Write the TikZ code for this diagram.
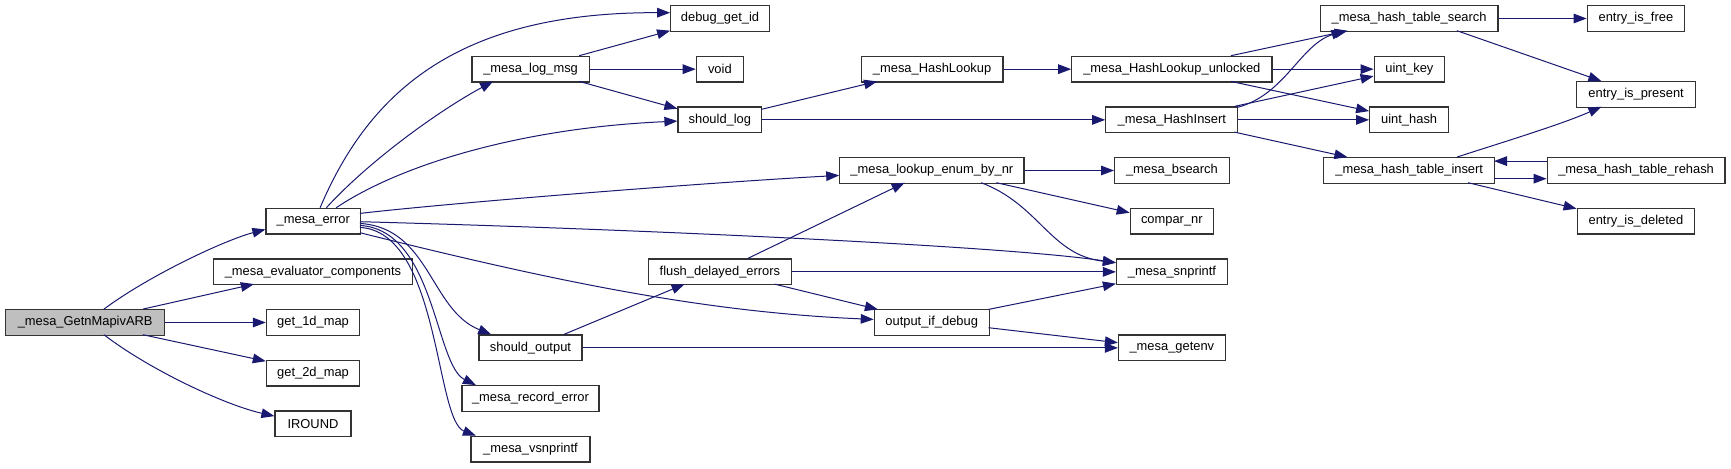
\documentclass[tikz,border=0pt]{standalone}
\usepackage{fontspec}
\setmainfont{Liberation Sans}
\usetikzlibrary{arrows.meta,calc}
\definecolor{edgeblue}{RGB}{25,25,112}
\definecolor{rootgray}{RGB}{191,191,191}
\tikzset{
 fnbox/.style={draw=black!80, line width=0.6pt, fill=white, inner sep=0pt, text=black, font=\fontsize{6.45pt}{7pt}\selectfont},
 call/.style={draw=edgeblue, line width=0.5pt, -{Triangle[length=6.5pt,width=4.8pt]}},
}
\newcommand\fnode[7][]{\node[fnbox,#1,minimum width={(#4-#3)*0.5pt},minimum height={(#6-#5)*0.5pt}] (#2) at ({(#3+#4)/2},{(#5+#6)/2}) {#7};}
\begin{document}
\begin{tikzpicture}[x=0.5pt,y=-0.5pt]
\fill[white] (0,0) rectangle (1731,468);
\useasboundingbox (0,0) rectangle (1731,468);
% nodes
\fnode[fill=rootgray]{G}{5.7}{164.6}{309.7}{335.3}{\_mesa\_GetnMapivARB}
\fnode{E}{266}{360.5}{208.3}{234}{\_mesa\_error}
\fnode{EV}{213.5}{412.5}{259}{284.7}{\_mesa\_evaluator\_components}
\fnode{G1}{266.4}{359.7}{309.7}{335.3}{get\_1d\_map}
\fnode{G2}{266.4}{359.7}{360.3}{386}{get\_2d\_map}
\fnode{IR}{275}{351}{411}{436.7}{IROUND}
\fnode{LM}{471.9}{589.3}{56.3}{82}{\_mesa\_log\_msg}
\fnode{SO}{479}{582}{335}{360.7}{should\_output}
\fnode{RE}{462}{599}{385.7}{411.3}{\_mesa\_record\_error}
\fnode{VS}{471}{590}{436.3}{462}{\_mesa\_vsnprintf}
\fnode{DG}{670.7}{769.4}{5.7}{31.3}{debug\_get\_id}
\fnode{VO}{696.3}{743.4}{56.3}{82}{void}
\fnode{SL}{678}{761.8}{107}{132.7}{should\_log}
\fnode{HL}{861.3}{1002.9}{56.3}{82}{\_mesa\_HashLookup}
\fnode{HLU}{1071.8}{1271.9}{56.3}{82}{\_mesa\_HashLookup\_unlocked}
\fnode{HI}{1105.8}{1237.8}{107}{132.7}{\_mesa\_HashInsert}
\fnode{LE}{839.8}{1023.9}{157.7}{183.3}{\_mesa\_lookup\_enum\_by\_nr}
\fnode{BS}{1114.6}{1229.3}{157.7}{183.3}{\_mesa\_bsearch}
\fnode{CN}{1130.3}{1213.4}{208.3}{234}{compar\_nr}
\fnode{FD}{648.5}{791.3}{259}{284.7}{flush\_delayed\_errors}
\fnode{SN}{1116.5}{1227.4}{259}{284.7}{\_mesa\_snprintf}
\fnode{OD}{874.3}{989.1}{309.7}{335.3}{output\_if\_debug}
\fnode{GE}{1118.5}{1225.2}{335}{360.7}{\_mesa\_getenv}
\fnode{HS}{1320.4}{1497.9}{5.7}{31.3}{\_mesa\_hash\_table\_search}
\fnode{EF}{1587.2}{1684.6}{5.7}{31.3}{entry\_is\_free}
\fnode{UK}{1374.2}{1444.5}{56.3}{82}{uint\_key}
\fnode{EP}{1576.8}{1695.4}{81.7}{107.3}{entry\_is\_present}
\fnode{UH}{1369.7}{1448.6}{107}{132.7}{uint\_hash}
\fnode{HT}{1323.8}{1494.6}{157.7}{183.3}{\_mesa\_hash\_table\_insert}
\fnode{RH}{1547.2}{1725}{157.7}{183.3}{\_mesa\_hash\_table\_rehash}
\fnode{ED}{1577.2}{1694.6}{208.3}{234}{entry\_is\_deleted}
% edges from root
\draw[call] ($(G.north west)+(98.8,0)$) .. controls (150,275) and (225,240) .. ($(E.north west)+(0,21.7)$);
\draw[call] ($(G.north west)+(137.8,0)$) -- ($(EV.north west)+(41,25.7)$);
\draw[call] (G.east) -- (G1.west);
\draw[call] ($(G.north west)+(137.8,25.6)$) -- ($(G2.north west)+(0,1.5)$);
\draw[call] ($(G.north west)+(98.8,25.6)$) .. controls (150,370) and (225,405) .. ($(IR.north west)+(0,5.7)$);
% edges from _mesa_error
\draw[call] ($(E.north west)+(54.7,0)$) .. controls (370,90) and (460,12) .. ($(DG.north west)+(0,7.6)$);
\draw[call] ($(E.north west)+(61,0)$) .. controls (370,160) and (440,110) .. ($(LM.north west)+(21.8,25.7)$);
\draw[call] ($(E.north west)+(70.8,0)$) .. controls (400,165) and (520,128) .. ($(SL.north west)+(0,14.7)$);
\draw[call] ($(E.north west)+(94.5,5.7)$) .. controls (450,203) and (700,183) .. ($(LE.north west)+(0,18.3)$);
\draw[call] ($(E.north west)+(94.5,14)$) .. controls (600,228) and (1000,245) .. ($(SN.north west)+(0,4.3)$);
\draw[call] ($(E.north west)+(94.5,25)$) .. controls (550,280) and (700,312) .. ($(OD.north west)+(0,10.3)$);
\draw[call] ($(E.north west)+(94.5,15.7)$) .. controls (430,228) and (430,310) .. ($(SO.north west)+(12.8,0)$);
\draw[call] ($(E.north west)+(94.5,17.7)$) .. controls (435,230) and (435,365) .. ($(RE.north west)+(14.5,0)$);
\draw[call] ($(E.north west)+(94.5,19.7)$) .. controls (440,232) and (435,420) .. ($(VS.north west)+(5.5,0)$);
% _mesa_log_msg
\draw[call] ($(LM.north west)+(107.9,0)$) -- ($(DG.north west)+(0,25.6)$);
\draw[call] (LM.east) -- (VO.west);
\draw[call] ($(LM.north west)+(107.9,25.7)$) -- ($(SL.north west)+(0,2.3)$);
% should_log
\draw[call] ($(SL.north west)+(83.8,3)$) -- ($(HL.north west)+(16.4,25.7)$);
\draw[call] (SL.east) -- (HI.west);
\draw[call] (HL.east) -- (HLU.west);
% HashLookup_unlocked
\draw[call] ($(HLU.north west)+(159.7,0)$) -- ($(HS.north west)+(27.8,25.6)$);
\draw[call] (HLU.east) -- (UK.west);
\draw[call] ($(HLU.north west)+(159.7,25.7)$) -- ($(UH.north west)+(0,4.7)$);
% HashInsert
\draw[call] ($(HI.north west)+(132,1)$) .. controls (1285,95) and (1300,45) .. ($(HS.north west)+(24.6,25.6)$);
\draw[call] ($(HI.north west)+(129.2,0)$) -- ($(UK.north west)+(0,20.4)$);
\draw[call] (HI.east) -- (UH.west);
\draw[call] ($(HI.north west)+(129.2,25.7)$) -- ($(HT.north west)+(24.2,0)$);
% lookup_enum
\draw[call] (LE.east) -- (BS.west);
\draw[call] ($(LE.north west)+(157.2,25.6)$) -- ($(CN.north west)+(0,5)$);
\draw[call] ($(LE.north west)+(142,25.6)$) .. controls (1040,205) and (1050,255) .. ($(SN.north west)+(0,4.3)$);
% flush_delayed_errors
\draw[call] ($(FD.north west)+(99.9,0)$) -- ($(LE.north west)+(65.5,25.6)$);
\draw[call] (FD.east) -- (SN.west);
\draw[call] ($(FD.north west)+(126.7,25.7)$) -- ($(OD.north west)+(4.2,0.3)$);
% should_output
\draw[call] ($(SO.north west)+(85.5,0)$) -- ($(FD.north west)+(36.7,25.7)$);
\draw[call] (SO.east) -- (GE.west);
% output_if_debug
\draw[call] ($(OD.north west)+(114.8,0.3)$) -- ($(SN.north west)+(0,25.3)$);
\draw[call] ($(OD.north west)+(114.8,18.6)$) -- ($(GE.north west)+(0,8.3)$);
% hash table
\draw[call] (HS.east) -- (EF.west);
\draw[call] ($(HS.north west)+(137.1,25.6)$) -- ($(EP.north west)+(25.2,0)$);
\draw[call] ($(HT.north west)+(133.7,0)$) .. controls (1500,143) and (1560,125) .. ($(EP.north west)+(25.2,25.6)$);
\draw[call] ($(HT.north west)+(170.8,21.6)$) -- ($(RH.north west)+(0,21.6)$);
\draw[call] ($(RH.north west)+(0,4)$) -- ($(HT.north west)+(170.8,4)$);
\draw[call] ($(HT.north west)+(144.8,25.6)$) -- ($(ED.north west)+(0,1)$);
\end{tikzpicture}
\end{document}
